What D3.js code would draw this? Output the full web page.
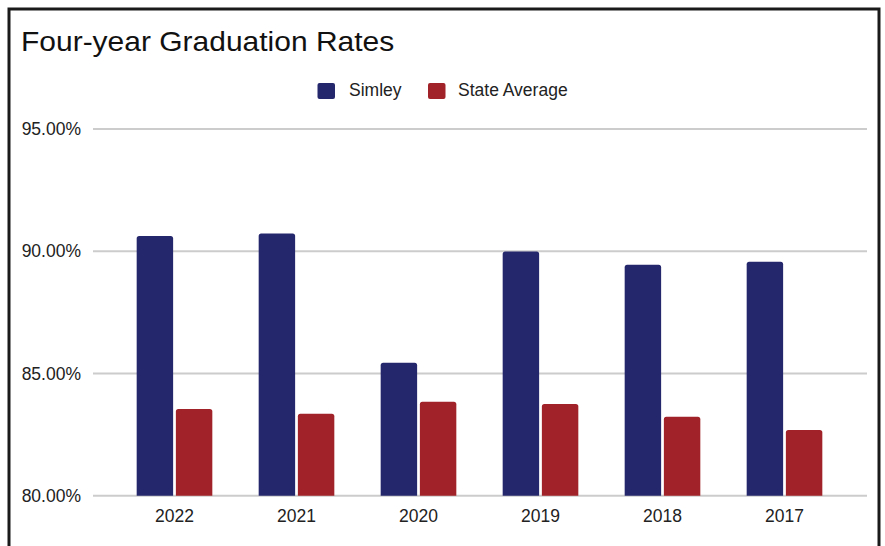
<!DOCTYPE html>
<html><head><meta charset="utf-8">
<script src="https://cdn.jsdelivr.net/npm/d3@7"></script>
<style>html,body{margin:0;padding:0;background:#fff;}svg{display:block;font-family:"Liberation Sans",Arial,sans-serif;}</style>
</head><body><svg id="c" width="885" height="546"></svg>
<script>
const years = ["2022","2021","2020","2019","2018","2017"];
const simley = [90.62, 90.73, 85.44, 89.99, 89.45, 89.57];
const stateAvg = [83.55, 83.35, 83.84, 83.75, 83.23, 82.69];
const seriesNames = ["Simley","State Average"];
const seriesColors = ["#25276c","#a12228"];
const yTicks = [80, 85, 90, 95];

const svg = d3.select("#c");
svg.append("rect").attr("x",0).attr("y",0).attr("width",885).attr("height",546).attr("fill","#fff");
svg.append("rect").attr("x",9).attr("y",9).attr("width",870).attr("height",600)
  .attr("fill","none").attr("stroke","#1a1a1a").attr("stroke-width",3);

svg.append("text").attr("x",21).attr("y",51).attr("font-size",30).attr("fill","#111")
  .attr("transform","translate(21,51) scale(1,0.93) translate(-21,-51)")
  .text("Four-year Graduation Rates");

const y = d3.scaleLinear().domain([80,95]).range([495.7,129]);
const x0 = d3.scaleBand().domain(years).range([113.5,845.5]).paddingInner(0.38).paddingOuter(0.19);
const x1 = d3.scaleBand().domain(seriesNames).range([0,x0.bandwidth()]).paddingInner(0.07);

// gridlines
svg.append("g").selectAll("line").data(yTicks).join("line")
  .attr("x1",93).attr("x2",867).attr("y1",d=>y(d)).attr("y2",d=>y(d))
  .attr("stroke","#cccccc").attr("stroke-width",2);

const yAxis = d3.axisLeft(y).tickValues(yTicks).tickFormat(d=>d.toFixed(2)+"%").tickSize(0).tickPadding(0);
const ya = svg.append("g").attr("transform","translate(81,0)").call(yAxis);
ya.select(".domain").remove();
ya.selectAll("text").attr("font-size",17.5).attr("fill","#222").attr("font-family","Liberation Sans, Arial, sans-serif");

const data = years.map((yr,i)=>({year:yr, vals:[simley[i], stateAvg[i]]}));
function roundTop(xp,yp,w,h,r){
  return `M${xp},${yp+h}V${yp+r}Q${xp},${yp} ${xp+r},${yp}H${xp+w-r}Q${xp+w},${yp} ${xp+w},${yp+r}V${yp+h}Z`;
}
const g = svg.append("g").selectAll("g").data(data).join("g")
  .attr("transform",d=>`translate(${x0(d.year)},0)`);
g.selectAll("path").data(d=>d.vals.map((v,j)=>({v,s:seriesNames[j],j}))).join("path")
  .attr("fill",d=>seriesColors[d.j])
  .attr("d",d=>roundTop(x1(d.s), y(d.v), x1.bandwidth(), y(80)-y(d.v), 2.5));

const xAxis = d3.axisBottom(x0).tickSize(0).tickPadding(0);
const xa = svg.append("g").attr("transform","translate(0,522)").call(xAxis);
xa.select(".domain").remove();
xa.selectAll("text").attr("font-size",17.5).attr("fill","#222").attr("dy","0").attr("y",0).attr("font-family","Liberation Sans, Arial, sans-serif");

// legend
const legend = svg.append("g");
const legItems = [{x:317.5, tx:349},{x:428, tx:458}];
seriesNames.forEach((n,i)=>{
  legend.append("rect").attr("x",legItems[i].x).attr("y",83).attr("width",17.5).attr("height",16).attr("rx",2)
    .attr("fill",seriesColors[i]);
  legend.append("text").attr("x",legItems[i].tx).attr("y",96).attr("font-size",17.5).attr("fill","#222").text(n);
});
</script></body></html>
